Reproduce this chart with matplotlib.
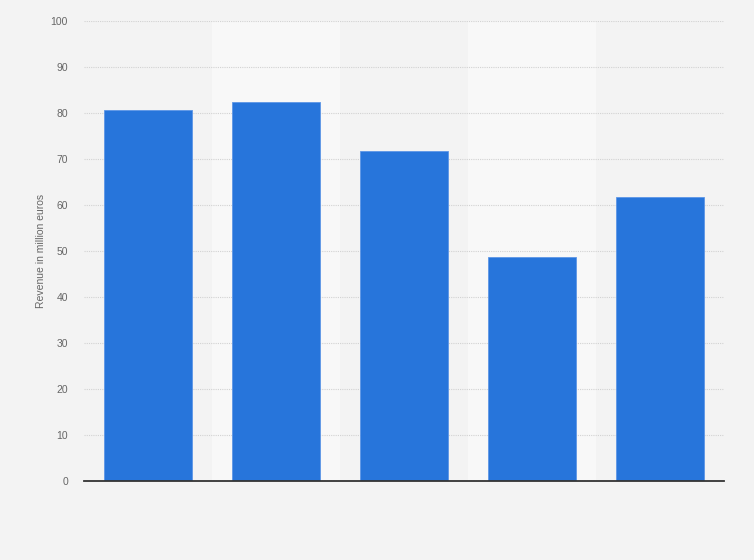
import matplotlib
matplotlib.use("Agg")
import matplotlib.pyplot as plt

categories = ["1", "2", "3", "4", "5"]
revenue = [80.6, 82.3, 71.7, 48.8, 61.7]
yticks = [0, 10, 20, 30, 40, 50, 60, 70, 80, 90, 100]

plt.rcParams['font.family'] = ['Liberation Sans', 'DejaVu Sans']

fig = plt.figure(figsize=(7.54, 5.6), dpi=100, facecolor='#f3f3f3')
W, H = 754, 560
ax = fig.add_axes([84 / W, 1 - 481 / H, 640 / W, 460 / H])
ax.set_facecolor('#f3f3f3')

x = list(range(len(categories)))
for i in x:
    if i % 2 == 1:
        ax.axvspan(i - 0.5, i + 0.5, color='#f8f8f8', zorder=0, lw=0)

ax.bar(x, revenue, width=0.6875, color='#2775db', edgecolor='#5d96e6', linewidth=0.6, zorder=3)

ax.set_xlim(-0.5, len(categories) - 0.5)
ax.set_ylim(0, 100)
ax.set_yticks(yticks)
ax.set_yticklabels([str(t) for t in yticks], color='#666666', fontsize=7.5)
ax.set_xticks([])
ax.tick_params(axis='y', length=0, pad=11.5)
ax.yaxis.grid(True, linestyle=(0, (1, 1)), color='#d2d2d2', linewidth=0.8, zorder=1)
ax.set_axisbelow(True)
for s in ['top', 'right', 'left']:
    ax.spines[s].set_visible(False)
ax.spines['bottom'].set_color('#333333')
ax.spines['bottom'].set_linewidth(1.3)
ax.spines['bottom'].set_zorder(4)

ax.set_ylabel('Revenue in million euros', color='#666666', fontsize=7.5)
ax.yaxis.set_label_coords((46 - 84) / 640, (481 - 251) / 460)

fig.savefig('out.png', dpi=100, facecolor=fig.get_facecolor())
